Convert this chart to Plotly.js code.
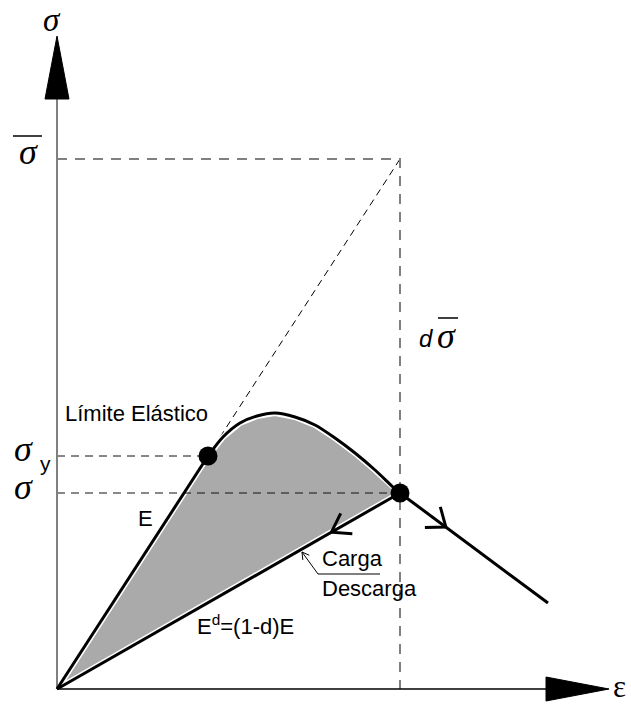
<!DOCTYPE html>
<html>
<head>
<meta charset="utf-8">
<script src="https://cdn.plot.ly/plotly-3.0.1.min.js"></script>
<style>
  html, body { margin: 0; padding: 0; background: #ffffff; }
  #chart { width: 631px; height: 706px; }
</style>
</head>
<body>
<div id="chart"></div>
<script>
// Stress–strain path of an elasto-damage material (schematic units)
const strain = [0, 1.51, 1.66, 1.83, 2.00, 2.18, 2.38, 2.58, 2.78, 2.98, 3.18, 3.36, 3.43, 4.91];
const stress = [0, 2.33, 2.52, 2.66, 2.73, 2.76, 2.72, 2.64, 2.51, 2.36, 2.19, 2.02, 1.96, 0.86];
const yieldIndex = 1;    // elastic limit (sigma_y)
const damageIndex = 12;  // current damaged state (sigma)
const effectiveStress = 5.30; // sigma-bar: undamaged elastic stress at the damaged strain

// Axis extents (end of the axis line, start of the arrow head)
const strainAxisEnd = 4.89;
const stressAxisEnd = 5.90;

// Text drawn on the figure
const strainSymbol = 'ε';
const stressSymbol = 'σ';
const yieldSubscript = 'y';
const elasticLimitText = 'Límite Elástico';
const modulusText = 'E';
const damagedModulusText = 'E<sup>d</sup>=(1-d)E';
const loadText = 'Carga';
const unloadText = 'Descarga';
const damageFactorText = 'd';

const epsY = strain[yieldIndex], sigY = stress[yieldIndex];
const epsD = strain[damageIndex], sigD = stress[damageIndex];

const BLACK = '#000000';
const GREY_DASH = '#808080';
const SERIF = 'Liberation Serif, DejaVu Serif, serif';
const SANS = 'Liberation Sans, Arial, sans-serif';

const traces = [];

// Extension of the undamaged elastic line up to sigma-bar
traces.push({
  x: [0, epsD], y: [0, effectiveStress], mode: 'lines',
  line: { color: BLACK, width: 1, dash: '7px,5px' }
});

// Dissipated-energy area between loading and unloading
const areaX = strain.slice(0, damageIndex + 1).concat([0]);
const areaY = stress.slice(0, damageIndex + 1).concat([0]);
traces.push({
  x: areaX, y: areaY, mode: 'lines', fill: 'toself',
  fillcolor: '#aaaaaa', line: { color: '#ffffff', width: 6 }
});

// Grey guides for sigma-bar and the damaged strain
traces.push({
  x: [0, epsD, epsD], y: [effectiveStress, effectiveStress, 0], mode: 'lines',
  line: { color: GREY_DASH, width: 2, dash: '10px,8px' }
});

// Thin guides for sigma_y and sigma
traces.push({
  x: [0, epsY], y: [sigY, sigY], mode: 'lines',
  line: { color: '#111111', width: 1, dash: '8px,6px' }
});
traces.push({
  x: [0, epsD], y: [sigD, sigD], mode: 'lines',
  line: { color: '#111111', width: 1, dash: '8px,6px' }
});

// Axes
traces.push({
  x: [0, 0], y: [0, stressAxisEnd], mode: 'lines',
  line: { color: GREY_DASH, width: 2 }
});
traces.push({
  x: [0, strainAxisEnd], y: [0, 0], mode: 'lines',
  line: { color: BLACK, width: 1.5 }
});
const headLen = 0.63, headHalf = 0.12;
traces.push({
  x: [-headHalf, headHalf, 0, -headHalf],
  y: [stressAxisEnd, stressAxisEnd, stressAxisEnd + headLen, stressAxisEnd],
  mode: 'lines', fill: 'toself', fillcolor: BLACK, line: { color: BLACK, width: 1 }
});
traces.push({
  x: [strainAxisEnd, strainAxisEnd, strainAxisEnd + headLen, strainAxisEnd],
  y: [-headHalf, headHalf, 0, -headHalf],
  mode: 'lines', fill: 'toself', fillcolor: BLACK, line: { color: BLACK, width: 1 }
});

// Loading path: elastic branch, hardening/softening curve, softening tail
traces.push({
  x: strain.slice(0, yieldIndex + 1), y: stress.slice(0, yieldIndex + 1),
  mode: 'lines', line: { color: BLACK, width: 3 }
});
traces.push({
  x: strain.slice(yieldIndex, damageIndex + 1), y: stress.slice(yieldIndex, damageIndex + 1),
  mode: 'lines', line: { color: BLACK, width: 3, shape: 'spline', smoothing: 0.8 }
});
traces.push({
  x: strain.slice(damageIndex), y: stress.slice(damageIndex),
  mode: 'lines', line: { color: BLACK, width: 3 }
});
// Unloading with damaged modulus back to the origin
traces.push({
  x: [epsD, 0], y: [sigD, 0], mode: 'lines', line: { color: BLACK, width: 3 }
});

// Open arrow heads showing the direction of travel along a segment
function chevron(x0, y0, x1, y1, frac, len, halfAngleDeg) {
  const dx = x1 - x0, dy = y1 - y0, L = Math.hypot(dx, dy);
  const ux = -dx / L, uy = -dy / L;
  const tx = x0 + frac * dx, ty = y0 + frac * dy;
  const a = halfAngleDeg * Math.PI / 180;
  const r = (s) => [ux * Math.cos(s) - uy * Math.sin(s), ux * Math.sin(s) + uy * Math.cos(s)];
  const p = r(a), q = r(-a);
  return {
    x: [tx + len * p[0], tx, tx + len * q[0]],
    y: [ty + len * p[1], ty, ty + len * q[1]],
    mode: 'lines', line: { color: BLACK, width: 3 }
  };
}
traces.push(chevron(epsD, sigD, 0, 0, 0.2, 0.21, 34));
const last = strain.length - 1;
traces.push(chevron(epsD, sigD, strain[last], stress[last], 0.31, 0.21, 38));

// Elastic limit and damaged state markers
traces.push({
  x: [epsY, epsD], y: [sigY, sigD], mode: 'markers',
  marker: { color: BLACK, size: 19 }
});

// Leader from the Carga/Descarga label to the unloading branch
const leaderX = [3.23, 2.61, 2.45];
const leaderY = [1.15, 1.15, 1.37];
traces.push({ x: leaderX, y: leaderY, mode: 'lines', line: { color: BLACK, width: 1 } });
traces.push(Object.assign(chevron(2.61, 1.15, 2.45, 1.37, 1.0, 0.08, 30),
  { line: { color: BLACK, width: 1 } }));

const ann = (x, y, text, font, extra) => Object.assign({
  x, y, xref: 'x', yref: 'y', text, showarrow: false, font
}, extra || {});
const sigmaFont = { family: SERIF, size: 36, color: BLACK };
const sansFont = { family: SANS, size: 22, color: BLACK };

const annotations = [
  ann(-0.05, 1, '<i>' + stressSymbol + '</i>', { family: SERIF, size: 33, color: BLACK },
    { yref: 'paper', yanchor: 'top' }),
  ann(-0.29, 5.37, '<i>' + stressSymbol + '</i>', sigmaFont),
  ann(-0.34, sigY + 0.07, '<i>' + stressSymbol + '</i>', sigmaFont),
  ann(-0.12, sigY - 0.07, yieldSubscript, { family: SANS, size: 21, color: BLACK }),
  ann(-0.34, sigD + 0.06, '<i>' + stressSymbol + '</i>', sigmaFont),
  ann(5.62, 0, strainSymbol, { family: SERIF, size: 31, color: BLACK },
    { yref: 'paper', yanchor: 'bottom' }),
  ann(3.69, 3.51, '<i>' + damageFactorText + '</i>', { family: SANS, size: 24, color: BLACK }),
  ann(3.89, 3.53, '<i>' + stressSymbol + '</i>', sigmaFont),
  ann(0.06, 2.76, elasticLimitText, sansFont, { xanchor: 'left' }),
  ann(0.88, 1.71, modulusText, sansFont),
  ann(2.63, 1.31, loadText, sansFont, { xanchor: 'left' }),
  ann(2.63, 1.01, unloadText, sansFont, { xanchor: 'left' }),
  ann(1.38, 0.64, damagedModulusText, sansFont, { xanchor: 'left' })
];

// Overbars of sigma-bar labels
const shapes = [
  { type: 'line', xref: 'x', yref: 'y', x0: -0.44, x1: -0.15, y0: 5.53, y1: 5.53,
    line: { color: BLACK, width: 1.5 } },
  { type: 'line', xref: 'x', yref: 'y', x0: 3.81, x1: 4.01, y0: 3.71, y1: 3.71,
    line: { color: BLACK, width: 1.5 } }
];

const layout = {
  width: 631, height: 706,
  margin: { l: 0, r: 0, t: 0, b: 0 },
  paper_bgcolor: '#ffffff', plot_bgcolor: '#ffffff',
  showlegend: false,
  xaxis: { range: [-0.57, 5.74], visible: false, fixedrange: true },
  yaxis: { range: [-0.17, 6.89], visible: false, fixedrange: true },
  annotations, shapes
};

Plotly.newPlot('chart', traces, layout, { staticPlot: true, displayModeBar: false });
</script>
</body>
</html>
